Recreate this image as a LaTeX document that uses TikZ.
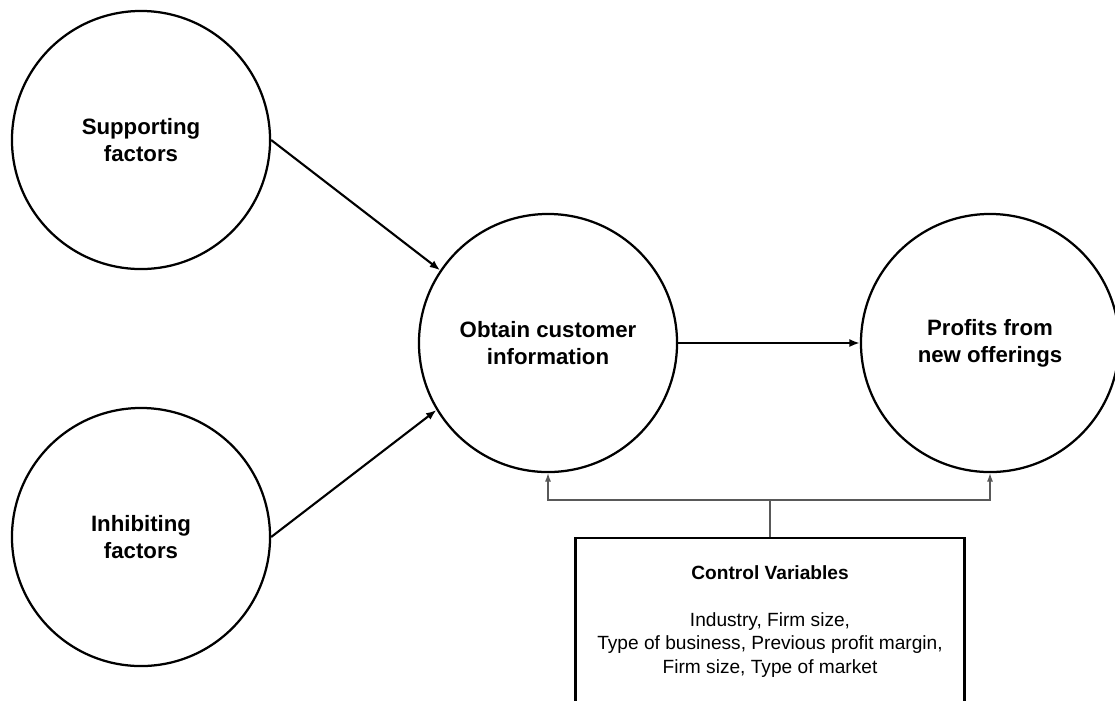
\documentclass[tikz,border=0pt]{standalone}
\usepackage{fontspec}
\setmainfont{Liberation Sans}
\usetikzlibrary{arrows.meta}
\begin{document}
\begin{tikzpicture}[x=0.025cm,y=-0.025cm]
	% Styles
	\tikzstyle{fleche}=[->,>={Latex[length=2.6mm,width=2mm]},line width=1.5pt]
	\tikzstyle{controle}=[->,>={Latex[length=2.1mm,width=1.5mm]},line width=0.8pt,black!65]
	\tikzstyle{noeud}=[circle,draw,line width=1.6pt,minimum size=6.45cm,inner sep=0pt,align=center,font=\fontsize{15.8}{19.2}\selectfont\bfseries]
	\tikzstyle{boite}=[draw,line width=1.7pt,minimum width=9.72cm,minimum height=4.15cm,align=center,font=\fontsize{13.6}{16.7}\selectfont]
	% Dimensions
	\def\ColonneA{141}
	\def\ColonneB{548}
	\def\ColonneC{990}
	\def\LigneA{140}
	\def\LigneB{343}
	\def\LigneC{537}
	\def\LigneD{500}
	\useasboundingbox (0,0) rectangle (1115,700);
	% Noeuds
	\node[noeud] (Sup) at ({\ColonneA},{\LigneA}) {Supporting\\factors};
	\node[noeud] (Inh) at ({\ColonneA},{\LigneB+194}) {Inhibiting\\factors};
	\node[noeud] (Obt) at ({\ColonneB},{\LigneB}) {Obtain customer\\information};
	\node[noeud] (Prof) at ({\ColonneC},{\LigneB}) {Profits from\\new offerings};
	\node[boite,anchor=north] (Ctrl) at ({770},{\LigneC}) {\textbf{Control Variables}\\[16.7pt]Industry, Firm size,\\Type of business, Previous profit margin,\\Firm size, Type of market};
	\coordinate (Fourche) at ({770},{\LigneD});
	% Arcs
	\draw[fleche] (Sup.east)--(Obt.146);
	\draw[fleche] (Inh.east)--(Obt.211);
	\draw[fleche] (Obt.east)--(Prof.west);
	\draw[controle,-] (Ctrl.north)--(Fourche);
	\draw[controle] (Fourche)-|(Obt.south);
	\draw[controle] (Fourche)-|(Prof.south);
\end{tikzpicture}
\end{document}
